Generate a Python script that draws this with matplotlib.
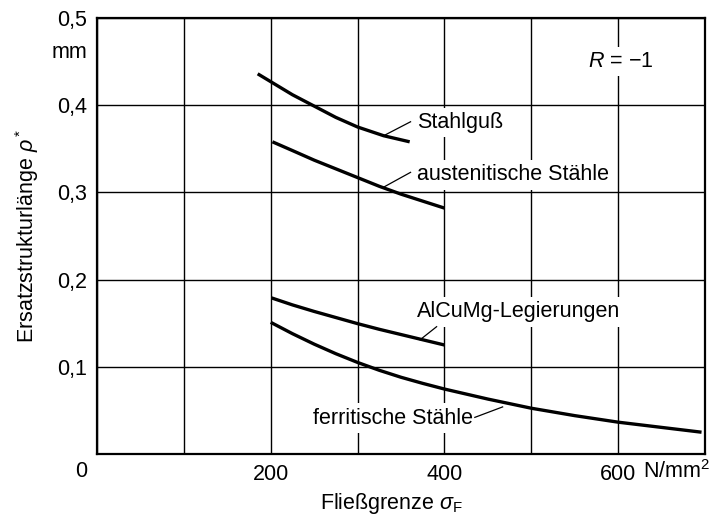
import matplotlib
matplotlib.use('Agg')
import matplotlib.pyplot as plt

# --- data ---
stahlguss_x = [185, 200, 225, 250, 275, 300, 330, 360]
stahlguss_y = [0.436, 0.427, 0.412, 0.399, 0.386, 0.375, 0.365, 0.358]

austenit_x = [202, 225, 250, 275, 300, 325, 350, 375, 400]
austenit_y = [0.358, 0.348, 0.337, 0.327, 0.317, 0.307, 0.298, 0.290, 0.282]

alcumg_x = [201, 225, 250, 275, 300, 325, 350, 375, 400]
alcumg_y = [0.179, 0.171, 0.1635, 0.1565, 0.1495, 0.143, 0.137, 0.131, 0.125]

ferrit_x = [200, 225, 250, 275, 300, 325, 350, 375, 400, 450, 500, 550, 600, 650, 696]
ferrit_y = [0.151, 0.138, 0.126, 0.115, 0.105, 0.096, 0.088, 0.081, 0.0745,
            0.063, 0.0525, 0.044, 0.0365, 0.0305, 0.025]

x_ticks = [0, 100, 200, 300, 400, 500, 600, 700]
x_labels = ['', '', '200', '', '400', '', '600', '']
y_ticks = [0, 0.1, 0.2, 0.3, 0.4, 0.5]
y_labels = ['', '0,1', '0,2', '0,3', '0,4', '0,5']

plt.rcParams['font.family'] = ['Liberation Sans', 'DejaVu Sans']
plt.rcParams['mathtext.fontset'] = 'custom'
plt.rcParams['mathtext.rm'] = 'Liberation Sans'
plt.rcParams['mathtext.it'] = 'Liberation Sans:italic'
fs = 15.5

fig = plt.figure(figsize=(7.21, 5.17), dpi=100)
ax = fig.add_axes([97/721, 63/517, 608/721, 436/517])
ax.set_xlim(0, 700)
ax.set_ylim(0, 0.5)

ax.set_xticks(x_ticks)
ax.set_xticklabels(x_labels, fontsize=fs)
ax.set_yticks(y_ticks)
ax.set_yticklabels(y_labels, fontsize=fs)
ax.tick_params(length=0, pad=7)
ax.grid(True, color='black', lw=1.0)
ax.set_axisbelow(True)
for s in ax.spines.values():
    s.set_linewidth(1.6)

# curves
for xs, ys in [(stahlguss_x, stahlguss_y), (austenit_x, austenit_y),
               (alcumg_x, alcumg_y), (ferrit_x, ferrit_y)]:
    ax.plot(xs, ys, color='black', lw=2.4, zorder=5, solid_capstyle='butt',
            solid_joinstyle='round')

# labels with leader lines
box = dict(facecolor='white', edgecolor='none', boxstyle='square,pad=0.2')
ax.text(368, 0.380, 'Stahlguß', fontsize=fs, va='center', ha='left', bbox=box, zorder=3)
ax.plot([330, 361], [0.365, 0.381], color='black', lw=0.9, zorder=5)

ax.text(368, 0.320, 'austenitische Stähle', fontsize=fs, va='center', ha='left', bbox=box, zorder=3)
ax.plot([330, 361], [0.306, 0.323], color='black', lw=0.9, zorder=5)

ax.text(368, 0.163, 'AlCuMg-Legierungen', fontsize=fs, va='center', ha='left', bbox=box, zorder=3)
ax.plot([372, 391], [0.131, 0.146], color='black', lw=0.9, zorder=5)

ax.text(433, 0.041, 'ferritische Stähle', fontsize=fs, va='center', ha='right', bbox=box, zorder=3)
ax.plot([435, 467], [0.042, 0.054], color='black', lw=0.9, zorder=5)

ax.text(565, 0.45, '$R$ = −1', fontsize=fs, va='center', ha='left', bbox=box, zorder=3)

# unit labels and corner zero
ax.text(-0.016, 0.922, 'mm', fontsize=fs, ha='right', va='center', transform=ax.transAxes)
ax.text(-0.026, -0.039, '0', fontsize=fs, ha='center', va='center', transform=ax.transAxes)
ax.text(0.898, -0.041, 'N/mm$^2$', fontsize=fs, ha='left', va='center', transform=ax.transAxes)

fig.text(27/721, 1 - 236/517, r'Ersatzstrukturlänge $\rho^*$', fontsize=fs,
         rotation=90, ha='center', va='center')
fig.text(392/721, 1 - 503/517, r'Fließgrenze $\sigma_\mathrm{F}$', fontsize=fs,
         ha='center', va='center')

fig.savefig('out.png', dpi=100)
